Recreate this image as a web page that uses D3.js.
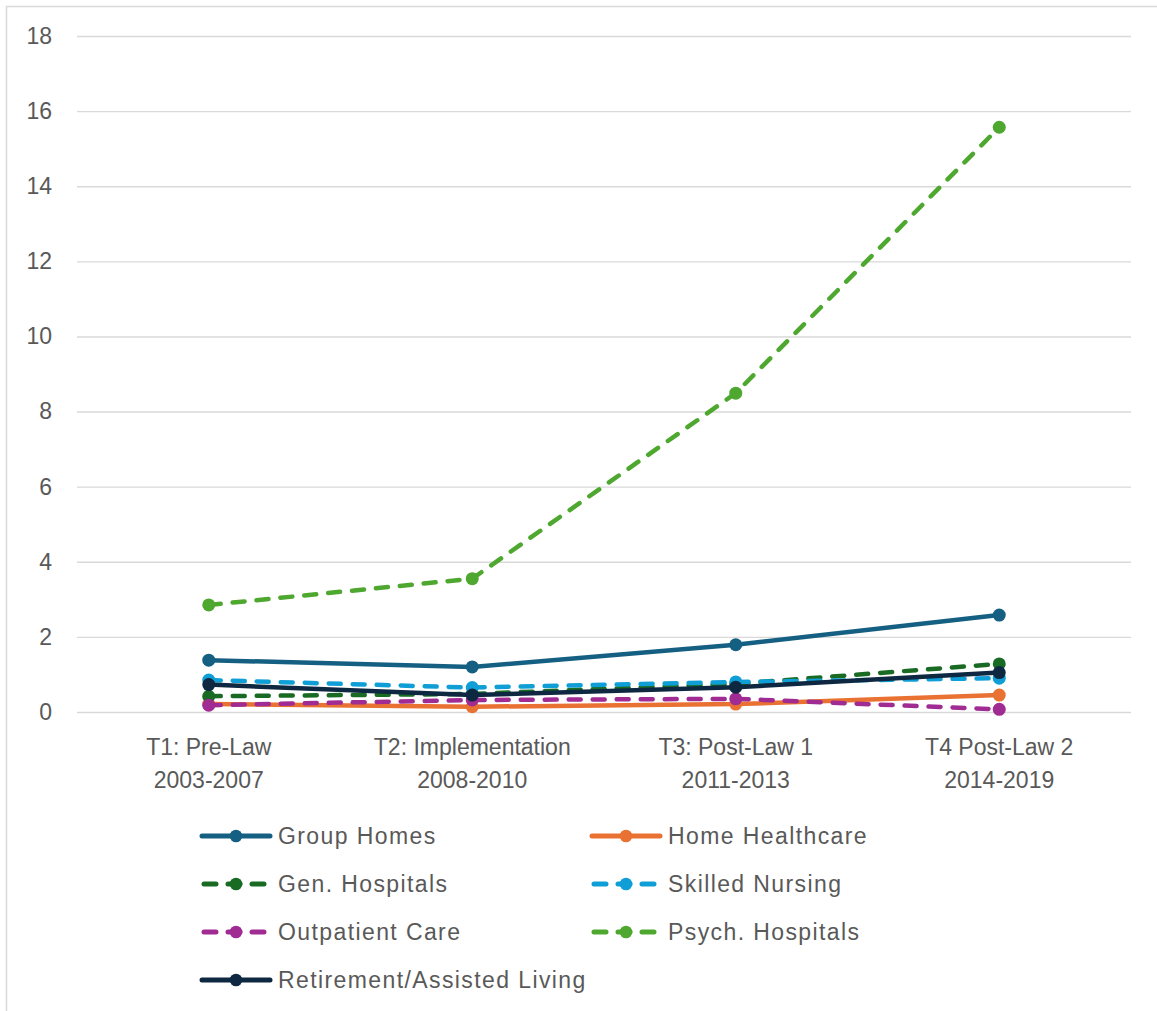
<!DOCTYPE html>
<html>
<head>
<meta charset="utf-8">
<script src="https://cdn.jsdelivr.net/npm/d3@7"></script>
<style>
  html, body { margin: 0; padding: 0; background: #fff; }
  svg { display: block; }
  text { font-family: "Liberation Sans", Arial, sans-serif; fill: #595959; }
</style>
</head>
<body>
<svg id="chart" width="1157" height="1011"></svg>
<script>
// Periods along the x axis (two-line labels)
const periods = ["T1: Pre-Law|2003-2007", "T2: Implementation|2008-2010", "T3: Post-Law 1|2011-2013", "T4 Post-Law 2|2014-2019"];
const yTicks = [0, 2, 4, 6, 8, 10, 12, 14, 16, 18];

// Rates per setting, one value per period
const groupHomes      = [1.38, 1.20, 1.79, 2.58];
const homeHealthcare  = [0.21, 0.14, 0.21, 0.45];
const genHospitals    = [0.42, 0.48, 0.75, 1.28];
const skilledNursing  = [0.85, 0.65, 0.80, 0.90];
const outpatientCare  = [0.18, 0.32, 0.35, 0.07];
const psychHospitals  = [2.85, 3.55, 8.49, 15.57];
const retirementLiving = [0.73, 0.45, 0.66, 1.05];

const seriesNames  = ["Group Homes", "Home Healthcare", "Gen. Hospitals", "Skilled Nursing", "Outpatient Care", "Psych. Hospitals", "Retirement/Assisted Living"];
const seriesValues = [groupHomes, homeHealthcare, genHospitals, skilledNursing, outpatientCare, psychHospitals, retirementLiving];
const seriesColors = ["#156082", "#E97132", "#196B24", "#0F9ED5", "#A02B93", "#4EA72E", "#0E2841"];
const seriesDashed = [false, false, true, true, true, true, false];

const svg = d3.select("#chart");
const W = 1157, H = 1011;

// chart frame (only the top and left edges fall inside the view)
svg.append("rect")
  .attr("x", 6.5).attr("y", 6.5)
  .attr("width", W + 10).attr("height", H + 10)
  .attr("fill", "none").attr("stroke", "#d9d9d9").attr("stroke-width", 1.5);

const plot = { left: 77, right: 1131, top: 36, bottom: 712 };

const x = d3.scaleBand().domain(periods).range([plot.left, plot.right]);
const y = d3.scaleLinear().domain([0, 18]).range([plot.bottom, plot.top]);

// horizontal gridlines + value labels
const yAxis = d3.axisLeft(y).tickValues(yTicks).tickSize(-(plot.right - plot.left)).tickPadding(25);
const gy = svg.append("g").attr("transform", `translate(${plot.left},0)`).call(yAxis);
gy.select(".domain").remove();
gy.selectAll(".tick line").attr("stroke", "#d9d9d9").attr("stroke-width", 1.4);
gy.selectAll(".tick text").attr("font-size", 23).attr("fill", "#595959")
  .attr("font-family", "\"Liberation Sans\", Arial, sans-serif");

// period labels
const xAxis = d3.axisBottom(x).tickSize(0).tickFormat(() => "");
const gx = svg.append("g").attr("transform", `translate(0,${plot.bottom})`).call(xAxis);
gx.select(".domain").remove();
gx.selectAll(".tick").each(function(d) {
  const t = d3.select(this).append("text")
    .attr("text-anchor", "middle").attr("font-size", 23).attr("fill", "#595959");
  d.split("|").forEach((line, i) => {
    t.append("tspan").attr("x", 0).attr("y", 43 + i * 33).text(line);
  });
});

const cx = (i) => x(periods[i]) + x.bandwidth() / 2;
const line = d3.line().x((d, i) => cx(i)).y(d => y(d));

// series lines with markers, drawn in legend order
seriesValues.forEach((vals, s) => {
  const g = svg.append("g");
  g.append("path")
    .attr("d", line(vals))
    .attr("fill", "none")
    .attr("stroke", seriesColors[s])
    .attr("stroke-width", 4.5)
    .attr("stroke-linecap", "round")
    .attr("stroke-linejoin", "round")
    .attr("stroke-dasharray", seriesDashed[s] ? "12,12" : null);
  g.selectAll("circle").data(vals).join("circle")
    .attr("cx", (d, i) => cx(i))
    .attr("cy", d => y(d))
    .attr("r", 6.5)
    .attr("fill", seriesColors[s]);
});

// legend, two columns
const legend = svg.append("g");
seriesNames.forEach((name, s) => {
  const col = s % 2, row = Math.floor(s / 2);
  const lx = col === 0 ? 202 : 592;
  const ly = 836 + row * 48;
  const item = legend.append("g").attr("transform", `translate(${lx},${ly})`);
  item.append("line")
    .attr("x1", 0).attr("x2", 68).attr("y1", 0).attr("y2", 0)
    .attr("stroke", seriesColors[s]).attr("stroke-width", 5)
    .attr("stroke-linecap", "round")
    .attr("stroke-dasharray", seriesDashed[s] ? "12,12" : null)
    .attr("stroke-dashoffset", seriesDashed[s] ? -2 : null);
  item.append("circle").attr("cx", 34).attr("cy", 0).attr("r", 6.3).attr("fill", seriesColors[s]);
  item.append("text").attr("x", 76).attr("y", 0).attr("dy", "0.35em")
    .attr("font-size", 23).attr("letter-spacing", 1.4).text(name);
});
</script>
</body>
</html>
